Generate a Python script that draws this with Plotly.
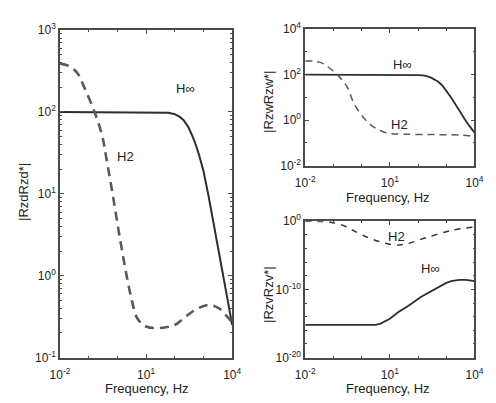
import plotly.graph_objects as go

# --- data ---------------------------------------------------------------
# |RzdRzd*|
rzd_hinf_f = [0.01, 0.1, 1, 10, 30, 60, 100, 150, 200, 300, 400, 500, 700, 1000, 1500, 2000, 3000, 5000, 7000, 10000]
rzd_hinf_v = [100, 100, 100, 100, 99.5, 98, 94, 87, 80, 65, 52, 43, 30, 19, 9.5, 5.6, 2.6, 0.95, 0.5, 0.25]
rzd_h2_f = [0.01, 0.02, 0.04, 0.07, 0.16, 0.3, 0.4, 0.68, 1.2, 2.1, 3.2, 5, 10, 30, 100, 200, 500, 1500, 3500, 6000, 10000]
rzd_h2_v = [390, 365, 300, 200, 100, 50, 29, 10, 3, 1, 0.5, 0.3, 0.24, 0.23, 0.25, 0.3, 0.38, 0.44, 0.4, 0.33, 0.27]

# |RzwRzw*|
rzw_hinf_f = [0.01, 0.1, 1, 10, 50, 100, 150, 200, 300, 500, 700, 1000, 1400, 2000, 3000, 4700, 7000, 10000]
rzw_hinf_v = [100, 100, 100, 100, 99, 96, 92, 86, 72, 50, 35, 20, 11, 5.5, 2.4, 1, 0.5, 0.28]
rzw_h2_f = [0.01, 0.02, 0.04, 0.07, 0.135, 0.3, 0.55, 1.4, 3, 8, 30, 300, 3000, 10000]
rzw_h2_v = [400, 390, 320, 200, 100, 30, 5, 1, 0.45, 0.27, 0.24, 0.23, 0.22, 0.19]

# |RzvRzv*|
rzv_hinf_f = [0.01, 0.1, 1, 3, 4.5, 6.5, 10, 19, 50, 125, 300, 600, 1000, 1500, 2900, 5000, 10000]
rzv_hinf_v = [6.3e-16, 6.3e-16, 6.3e-16, 6.4e-16, 9e-16, 1.8e-15, 5e-15, 4e-14, 5e-13, 7.9e-12,
              6.3e-11, 3.2e-10, 9e-10, 1.6e-9, 2.5e-9, 2.5e-9, 1.6e-9]
rzv_h2_f = [0.01, 0.03, 0.08, 0.25, 0.6, 2, 5.4, 15, 40, 200, 1700, 10000]
rzv_h2_v = [0.95, 0.9, 0.7, 0.2, 0.03, 3e-3, 8e-4, 3.2e-4, 5e-4, 4e-3, 0.05, 0.14]

x_ticks = [1e-2, 1e1, 1e4]
x_ticktext = ["10<sup>-2</sup>", "10<sup>1</sup>", "10<sup>4</sup>"]
rzd_yticks = [1e-1, 1e0, 1e1, 1e2, 1e3]
rzd_yticktext = ["10<sup>-1</sup>", "10<sup>0</sup>", "10<sup>1</sup>", "10<sup>2</sup>", "10<sup>3</sup>"]
rzw_yticks = [1e-2, 1e0, 1e2, 1e4]
rzw_yticktext = ["10<sup>-2</sup>", "10<sup>0</sup>", "10<sup>2</sup>", "10<sup>4</sup>"]
rzv_yticks = [1e-20, 1e-10, 1e0]
rzv_yticktext = ["10<sup>-20</sup>", "10<sup>-10</sup>", "10<sup>0</sup>"]

# --- styling --------------------------------------------------------------
FONT = "Liberation Sans, Arial, sans-serif"
SOLID = "#2e2e2e"
DASH = "#5a5a5a"
FRAME = "#4a4a4a"

fig = go.Figure()

def add(f, v, xa, ya, color, width, dash, shape="linear"):
    fig.add_trace(go.Scatter(x=f, y=v, xaxis=xa, yaxis=ya, mode="lines",
                             line=dict(color=color, width=width, dash=dash, shape=shape),
                             showlegend=False, hoverinfo="skip"))

add(rzd_hinf_f, rzd_hinf_v, "x", "y", SOLID, 2, "solid")
add(rzd_h2_f, rzd_h2_v, "x", "y", DASH, 2.6, "9px,6px", "spline")
add(rzw_hinf_f, rzw_hinf_v, "x2", "y2", SOLID, 1.8, "solid")
add(rzw_h2_f, rzw_h2_v, "x2", "y2", DASH, 1.5, "7px,5px", "spline")
add(rzv_hinf_f, rzv_hinf_v, "x3", "y3", SOLID, 1.8, "solid")
add(rzv_h2_f, rzv_h2_v, "x3", "y3", "#333333", 1.4, "6px,6px", "spline")

W, H = 496, 403
def px_x(a, b):
    return [a / W, b / W]
def px_y(top, bottom):
    return [1 - bottom / H, 1 - top / H]

def xaxis(dom, anchor):
    return dict(type="log", domain=dom, anchor=anchor, range=[-2, 4],
                tickvals=x_ticks, ticktext=x_ticktext, ticks="inside", ticklen=4,
                tickcolor=FRAME, showline=True, linecolor=FRAME, linewidth=1.6, mirror="allticks",
                showgrid=False, zeroline=False, ticklabelstandoff=5,
                tickfont=dict(family=FONT, size=12, color="#222"),
                minor=dict(ticks="inside", ticklen=2, tickcolor=FRAME, dtick=1, showgrid=False))

def yaxis(dom, anchor, rng, tv, tt, minor_dtick):
    return dict(type="log", domain=dom, anchor=anchor, range=rng,
                tickvals=tv, ticktext=tt, ticks="inside", ticklen=4,
                tickcolor=FRAME, showline=True, linecolor=FRAME, linewidth=1.6, mirror="allticks",
                showgrid=False, zeroline=False,
                tickfont=dict(family=FONT, size=12, color="#222"),
                minor=dict(ticks="inside", ticklen=2, tickcolor=FRAME, dtick=minor_dtick, showgrid=False))

fig.update_layout(
    width=W, height=H, margin=dict(l=0, r=0, t=0, b=0),
    paper_bgcolor="white", plot_bgcolor="white",
    xaxis=xaxis(px_x(52, 231), "y"),
    yaxis=yaxis(px_y(22, 363), "x", [-1, 3], rzd_yticks, rzd_yticktext, "D1"),
    xaxis2=xaxis(px_x(307, 483), "y2"),
    yaxis2=yaxis(px_y(21, 163), "x2", [-2, 4], rzw_yticks, rzw_yticktext, 1),
    xaxis3=xaxis(px_x(307, 483), "y3"),
    yaxis3=yaxis(px_y(221, 363), "x3", [-20, 0], rzv_yticks, rzv_yticktext, 2),
)

ann = []
def label(text, x, y, xref, yref, size=13):
    ann.append(dict(text=text, x=x, y=y, xref=xref, yref=yref, showarrow=False,
                    xanchor="center", yanchor="middle",
                    font=dict(family=FONT, size=size, color="#222")))

# curve labels (log axes: positions given as exponents)
label("H∞", 2.37, 2.29, "x", "y")
label("H2", 0.27, 1.46, "x", "y")
label("H∞", 1.45, 2.44, "x2", "y2")
label("H2", 1.34, -0.18, "x2", "y2")
label("H2", 1.24, -2.25, "x3", "y3")
label("H∞", 2.44, -6.9, "x3", "y3")

# axis titles
def title(text, xp, yp, angle=0):
    ann.append(dict(text=text, x=xp / W, y=1 - yp / H, xref="paper", yref="paper",
                    xanchor="center", yanchor="middle",
                    showarrow=False, textangle=angle,
                    font=dict(family=FONT, size=13, color="#222")))

title("Frequency, Hz", 142, 395)
title("Frequency, Hz", 393, 196)
title("Frequency, Hz", 393, 395)
title("|RzdRzd*|", 14, 190, -90)
title("|RzwRzw*|", 268, 97, -90)
title("|RzvRzv*|", 268, 297, -90)

fig.update_layout(annotations=ann)
fig.write_html("out.html")
